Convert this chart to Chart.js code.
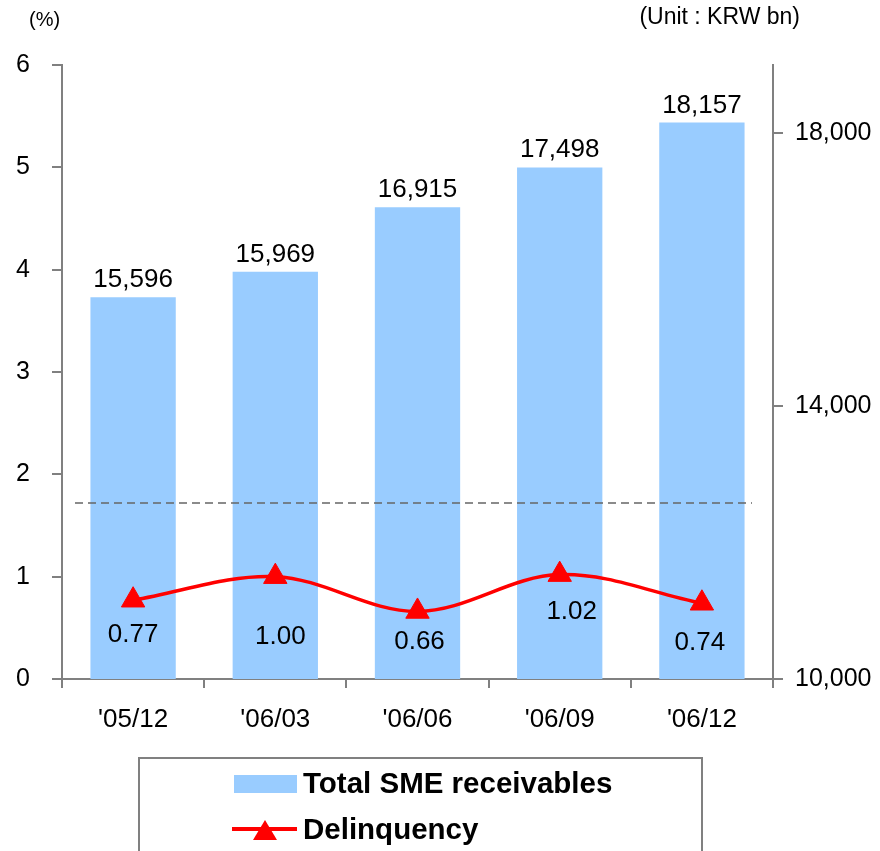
<!DOCTYPE html>
<html>
<head>
<meta charset="utf-8">
<script src="https://cdn.jsdelivr.net/npm/chart.js@4/dist/chart.umd.min.js"></script>
<style>
  html, body { margin: 0; padding: 0; background: #ffffff; }
  #wrap { width: 880px; height: 851px; position: relative; }
</style>
</head>
<body>
<div id="wrap"><canvas id="chart" width="880" height="851"></canvas></div>
<script>
// Quarter-end periods
const categories = ["'05/12", "'06/03", "'06/06", "'06/09", "'06/12"];
// Total SME receivables, KRW bn (right axis)
const receivables = [15596, 15969, 16915, 17498, 18157];
// Delinquency ratio, % (left axis)
const delinquency = [0.77, 1.00, 0.66, 1.02, 0.74];
// Axis tick values
const rateTicks = [0, 1, 2, 3, 4, 5, 6];
const amountTicks = [10000, 14000, 18000];
// Dashed reference level on the % axis
const referenceRate = 1.72;

// Placement tweaks for the ratio labels (pixels below / beside each marker)
const rateLabelDy = [35, 60, 30, 37, 40];
const rateLabelDx = [0, 5, 2, 12, -2];

const FONT = '"Liberation Sans", Arial, sans-serif';
const AXIS_GREY = '#808080';
const BAR_BLUE = '#99CCFF';
const LINE_RED = '#FF0000';

Chart.defaults.font.family = FONT;
Chart.defaults.color = '#000000';

const annotations = {
  id: 'annotations',
  afterDatasetsDraw(chart) {
    const ctx = chart.ctx;
    const area = chart.chartArea;
    const yL = chart.scales.y;

    // dashed reference line
    const yRef = yL.getPixelForValue(referenceRate);
    ctx.save();
    ctx.strokeStyle = '#666666';
    ctx.lineWidth = 1.5;
    ctx.setLineDash([8, 5]);
    ctx.beginPath();
    ctx.moveTo(area.left + 13, yRef);
    ctx.lineTo(area.right - 21, yRef);
    ctx.stroke();
    ctx.restore();

    // bar value labels
    const barMeta = chart.getDatasetMeta(0);
    ctx.save();
    ctx.font = '26px ' + FONT;
    ctx.fillStyle = '#000000';
    ctx.textAlign = 'center';
    ctx.textBaseline = 'alphabetic';
    barMeta.data.forEach((el, i) => {
      ctx.fillText(receivables[i].toLocaleString('en-US'), el.x, el.y - 10);
    });
    ctx.restore();
  },
  afterDraw(chart) {
    const ctx = chart.ctx;
    // ratio labels under markers
    const lineMeta = chart.getDatasetMeta(1);
    ctx.save();
    ctx.font = '26px ' + FONT;
    ctx.fillStyle = '#000000';
    ctx.textAlign = 'center';
    ctx.textBaseline = 'middle';
    lineMeta.data.forEach((el, i) => {
      ctx.fillText(delinquency[i].toFixed(2), el.x + rateLabelDx[i], el.y + rateLabelDy[i]);
    });
    ctx.restore();

    // unit captions
    ctx.save();
    ctx.fillStyle = '#000000';
    ctx.textBaseline = 'middle';
    ctx.font = '20px ' + FONT;
    ctx.textAlign = 'left';
    ctx.fillText('(%)', 29, 20);
    ctx.font = '23px ' + FONT;
    ctx.textAlign = 'right';
    ctx.fillText('(Unit : KRW bn)', 800, 18);
    ctx.restore();

    // legend box
    ctx.save();
    ctx.strokeStyle = AXIS_GREY;
    ctx.lineWidth = 2;
    ctx.strokeRect(139, 758, 563, 120);
    // bar entry
    ctx.fillStyle = BAR_BLUE;
    ctx.fillRect(234, 775, 63, 18);
    // line entry
    ctx.strokeStyle = LINE_RED;
    ctx.lineWidth = 4;
    ctx.beginPath();
    ctx.moveTo(232, 829);
    ctx.lineTo(297, 829);
    ctx.stroke();
    ctx.fillStyle = LINE_RED;
    ctx.beginPath();
    ctx.moveTo(265, 820);
    ctx.lineTo(277, 840);
    ctx.lineTo(253, 840);
    ctx.closePath();
    ctx.fill();
    ctx.fillStyle = '#000000';
    ctx.font = 'bold 29.5px ' + FONT;
    ctx.textAlign = 'left';
    ctx.textBaseline = 'middle';
    ctx.fillText('Total SME receivables', 303, 785);
    ctx.fillText('Delinquency', 303, 831);
    ctx.restore();
  }
};

new Chart(document.getElementById('chart'), {
  data: {
    labels: categories,
    datasets: [
      {
        type: 'bar',
        label: 'Total SME receivables',
        data: receivables,
        yAxisID: 'y1',
        backgroundColor: BAR_BLUE,
        borderWidth: 0,
        categoryPercentage: 1.0,
        barPercentage: 0.6,
        order: 2
      },
      {
        type: 'line',
        label: 'Delinquency',
        data: delinquency,
        yAxisID: 'y',
        borderColor: LINE_RED,
        borderWidth: 3.5,
        tension: 0.35,
        pointStyle: 'triangle',
        pointRadius: 13.5,
        pointHoverRadius: 13.5,
        pointBackgroundColor: LINE_RED,
        pointBorderColor: LINE_RED,
        pointBorderWidth: 1,
        order: 1
      }
    ]
  },
  options: {
    responsive: false,
    animation: false,
    events: [],
    layout: { padding: { top: 65, bottom: 120, left: 0, right: 0 } },
    plugins: {
      legend: { display: false },
      tooltip: { enabled: false }
    },
    scales: {
      x: {
        offset: true,
        grid: {
          display: true,
          drawOnChartArea: false,
          drawTicks: true,
          tickLength: 9,
          offset: true,
          color: AXIS_GREY,
          lineWidth: 2
        },
        border: { display: true, color: AXIS_GREY, width: 2 },
        ticks: { font: { size: 26 }, color: '#000000', padding: 16, maxRotation: 0 },
        afterFit(scale) { scale.height = 52; }
      },
      y: {
        position: 'left',
        min: 0,
        max: 6,
        afterBuildTicks(scale) { scale.ticks = rateTicks.map(v => ({ value: v })); },
        grid: {
          display: true,
          drawOnChartArea: false,
          drawTicks: true,
          tickLength: 10,
          color: AXIS_GREY,
          lineWidth: 2
        },
        border: { display: true, color: AXIS_GREY, width: 2 },
        ticks: { font: { size: 25 }, color: '#000000', padding: 22 },
        afterFit(scale) { scale.width = 62; }
      },
      y1: {
        position: 'right',
        min: 10000,
        max: 19000,
        afterBuildTicks(scale) { scale.ticks = amountTicks.map(v => ({ value: v })); },
        grid: {
          display: true,
          drawOnChartArea: false,
          drawTicks: true,
          tickLength: 10,
          color: AXIS_GREY,
          lineWidth: 2
        },
        border: { display: true, color: AXIS_GREY, width: 2 },
        ticks: {
          font: { size: 25 },
          color: '#000000',
          padding: 12,
          callback: v => Number(v).toLocaleString('en-US')
        },
        afterFit(scale) { scale.width = 107; }
      }
    }
  },
  plugins: [annotations]
});
</script>
</body>
</html>
